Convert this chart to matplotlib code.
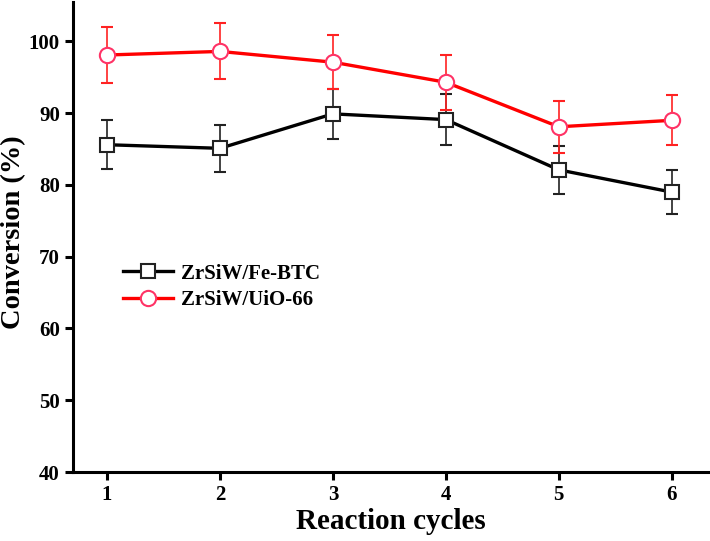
import matplotlib.pyplot as plt

cycles = [1, 2, 3, 4, 5, 6]
fe_btc = [85.6, 85.1, 89.9, 89.1, 82.1, 79.0]
fe_btc_err = [3.4, 3.3, 3.5, 3.5, 3.3, 3.1]
uio66 = [98.1, 98.6, 97.1, 94.3, 88.1, 89.0]
uio66_err = [3.9, 3.9, 3.8, 3.8, 3.6, 3.5]

plt.rcParams['font.family'] = ['Liberation Serif', 'DejaVu Serif']
plt.rcParams['font.weight'] = 'bold'

fig = plt.figure(figsize=(7.1, 5.41), dpi=100)
ax = fig.add_axes([0.103, 0.1275, 0.894, 0.869])

ax.errorbar(cycles, fe_btc, yerr=fe_btc_err, color='black', lw=2.4,
            marker='s', markersize=10, markerfacecolor='white',
            markeredgecolor='#222222', markeredgewidth=1.5,
            ecolor='#222222', elinewidth=1.2, capsize=4, capthick=1.2,
            label='ZrSiW/Fe-BTC')
ax.errorbar(cycles, uio66, yerr=uio66_err, color='#ff0000', lw=2.4,
            marker='o', markersize=11, markerfacecolor='white',
            markeredgecolor='#ff3366', markeredgewidth=1.5,
            ecolor='#ff2222', elinewidth=1.2, capsize=4, capthick=1.2,
            label='ZrSiW/UiO-66')

ax.set_xlim(0.7, 6.32)
ax.set_ylim(40, 105.5)
ax.set_xticks(cycles)
ax.set_yticks([40, 50, 60, 70, 80, 90, 100])

for s in ['top', 'right']:
    ax.spines[s].set_visible(False)
for s in ['left', 'bottom']:
    ax.spines[s].set_linewidth(2.2)
ax.tick_params(width=2.2, length=6, labelsize=15, direction='out')

ax.set_xlabel('Reaction cycles', fontsize=21, fontweight='bold', labelpad=2)
ax.set_ylabel('Conversion (%)', fontsize=20.5, fontweight='bold')
ax.yaxis.set_label_coords(-0.074, 0.51)

handles, labels = ax.get_legend_handles_labels()
handles = [h[0] for h in handles]
ax.legend(handles, labels, loc='center left', bbox_to_anchor=(0.079, 0.394),
          frameon=False, borderpad=0, borderaxespad=0, handlelength=2.4,
          handletextpad=0.35, labelspacing=0.3,
          prop={'size': 15, 'weight': 'bold'})

fig.savefig('out.png', dpi=100)
